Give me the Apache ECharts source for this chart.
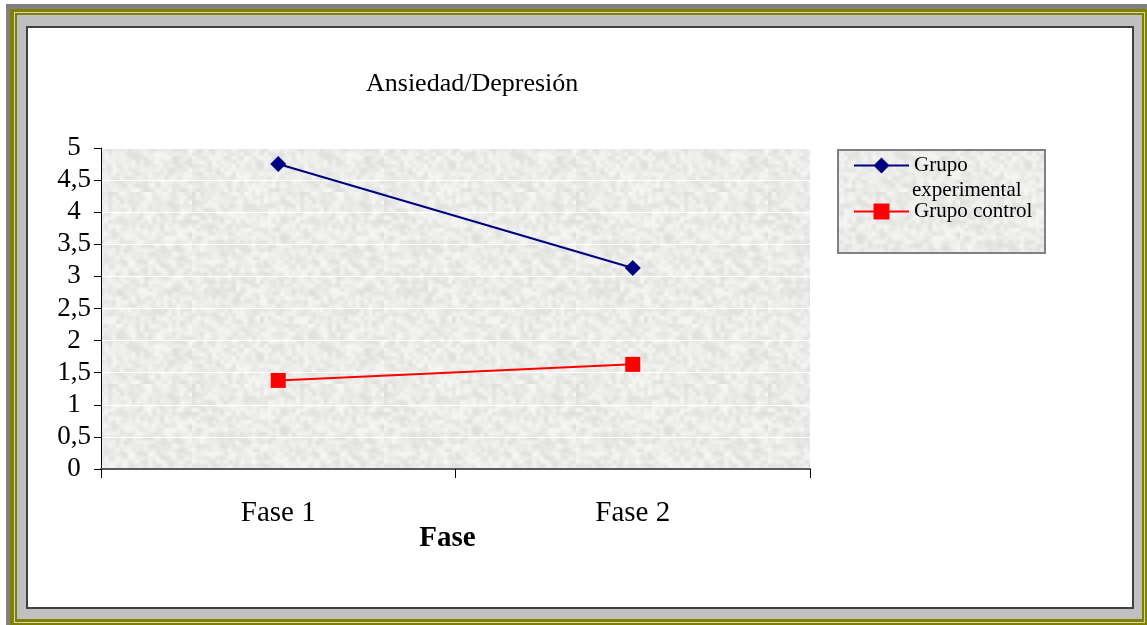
<!DOCTYPE html>
<html>
<head>
<meta charset="utf-8">
<script src="https://cdn.jsdelivr.net/npm/echarts@6/dist/echarts.min.js"></script>
<style>
  html, body { margin: 0; padding: 0; width: 1147px; height: 625px; overflow: hidden; background: #ffffff; }
  .f { position: absolute; }
  #chart { position: absolute; left: 0; top: 0; width: 1147px; height: 625px; }
</style>
</head>
<body>
<!-- decorative frame around the chart -->
<div class="f" style="left:6px;top:4px;right:0;bottom:0;background:#808080"></div>
<div class="f" style="left:10px;top:9px;right:0;bottom:0;background:#808000"></div>
<div class="f" style="left:14px;top:12px;right:2px;bottom:2px;background:#d6d6b8"></div>
<div class="f" style="left:15px;top:13px;right:3px;bottom:3px;background:#808000"></div>
<div class="f" style="left:17px;top:15px;right:5px;bottom:6px;background:#c0c0c0"></div>
<div class="f" style="left:26px;top:26px;right:13px;bottom:16px;background:#404040"></div>
<div class="f" style="left:28px;top:28px;right:15px;bottom:18px;background:#ffffff"></div>
<div id="chart"></div>
<script>
// Categories and series values
const phases = ['Fase 1', 'Fase 2'];
const experimentalGroup = [4.75, 3.13];
const controlGroup = [1.38, 1.63];
const seriesNames = ['Grupo experimental', 'Grupo control'];
const yTicks = { min: 0, max: 5, interval: 0.5 };

const serif = '"Liberation Serif", "Times New Roman", serif';

// Grainy light-grey fill used behind the plot and the legend
function makeGrain() {
  const small = document.createElement('canvas');
  small.width = 48; small.height = 48;
  const sctx = small.getContext('2d');
  const img = sctx.createImageData(48, 48);
  for (let y = 0; y < 48; y++) {
    for (let x = 0; x < 48; x++) {
      const h = Math.sin(x * 12.9898 + y * 78.233) * 43758.5453;
      const n = h - Math.floor(h);
      const v = Math.round(222 + n * 26);
      const i = (y * 48 + x) * 4;
      img.data[i] = v; img.data[i + 1] = v; img.data[i + 2] = v - 2; img.data[i + 3] = 255;
    }
  }
  sctx.putImageData(img, 0, 0);
  const big = document.createElement('canvas');
  big.width = 192; big.height = 192;
  const bctx = big.getContext('2d');
  bctx.imageSmoothingEnabled = true;
  bctx.drawImage(small, 0, 0, 192, 192);
  return big;
}
const grain = makeGrain();

const chart = echarts.init(document.getElementById('chart'), null, { renderer: 'canvas' });

chart.setOption({
  backgroundColor: 'transparent',
  animation: false,
  title: {
    text: 'Ansiedad/Depresión',
    left: 361,
    top: 66,
    textStyle: { fontFamily: serif, fontSize: 26, fontWeight: 'normal', color: '#000' }
  },
  graphic: [
    {
      type: 'rect',
      shape: { x: 838, y: 150, width: 207, height: 103 },
      style: { fill: { image: grain, repeat: 'repeat' }, stroke: '#808080', lineWidth: 2 },
      z: 0
    },
    {
      type: 'text',
      x: 912, y: 190,
      style: { text: 'experimental', font: '21px ' + serif, fill: '#000', verticalAlign: 'middle' },
      z: 10
    }
  ],
  legend: {
    orient: 'vertical',
    left: 853,
    top: 155,
    padding: 0,
    itemWidth: 55,
    itemHeight: 20,
    itemGap: 25,
    data: seriesNames,
    formatter: function (name) { return name === seriesNames[0] ? 'Grupo' : name; },
    textStyle: { fontFamily: serif, fontSize: 21, color: '#000' },
    z: 10
  },
  grid: {
    left: 101, top: 148, width: 709, height: 321,
    show: true, backgroundColor: { image: grain, repeat: 'repeat' }, borderWidth: 0
  },
  xAxis: {
    type: 'category',
    data: phases,
    boundaryGap: true,
    name: 'Fase',
    nameLocation: 'middle',
    nameGap: 55,
    nameMoveOverlap: false,
    nameTextStyle: { fontFamily: serif, fontSize: 29, fontWeight: 'bold', color: '#000', padding: [0, 16, 0, 0] },
    axisLine: { lineStyle: { color: '#5a5a5a', width: 2 } },
    axisTick: { show: true, length: 9, lineStyle: { color: '#000', width: 1 } },
    axisLabel: { margin: 30, fontFamily: serif, fontSize: 29, color: '#000' },
    splitLine: { show: false }
  },
  yAxis: {
    type: 'value',
    min: yTicks.min, max: yTicks.max, interval: yTicks.interval,
    axisLine: { show: true, lineStyle: { color: '#000', width: 1 } },
    axisTick: { show: true, length: 7, lineStyle: { color: '#000' } },
    axisLabel: {
      margin: 27, align: 'center', fontFamily: serif, fontSize: 27, color: '#000',
      formatter: function (v) { return String(v).replace('.', ','); }
    },
    splitLine: { show: true, lineStyle: { color: '#ffffff', width: 1 } }
  },
  series: [
    {
      name: seriesNames[0],
      type: 'line',
      data: experimentalGroup,
      symbol: 'diamond',
      symbolSize: 16,
      itemStyle: { color: '#000080' },
      lineStyle: { color: '#000080', width: 2 }
    },
    {
      name: seriesNames[1],
      type: 'line',
      data: controlGroup,
      symbol: 'rect',
      symbolSize: 15,
      itemStyle: { color: '#ff0000' },
      lineStyle: { color: '#ff0000', width: 2 }
    }
  ]
});
</script>
</body>
</html>
